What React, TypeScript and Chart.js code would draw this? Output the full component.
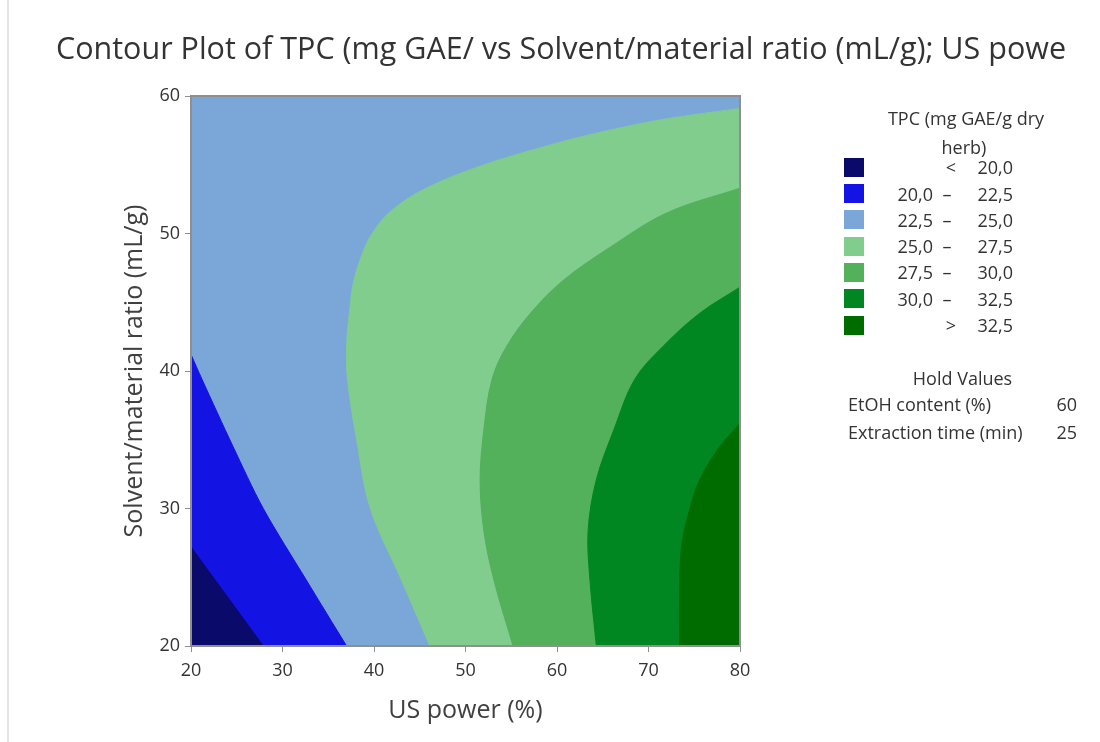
import React, { useEffect, useRef } from "react";
import { Chart, registerables } from "chart.js";

Chart.register(...registerables);

const FONT = "'Open Sans', 'Noto Sans', sans-serif";

// Axis ranges and ticks
const xRange = [20, 80];
const yRange = [20, 60];
const xTickStep = 10;
const yTickStep = 10;

// Contour boundaries: [US power %, solvent/material ratio]
const contour20_0 = [[20, 27.2], [27.9, 20]];
const contour22_5 = [[20, 41.2], [21.2, 39.4], [24.6, 34.5], [27.9, 30], [32.6, 24.8], [37, 20]];
const contour25_0 = [
  [46.1, 20], [43.0, 24.8], [39.6, 30], [38.1, 35], [37.1, 39.4], [37.0, 41.8], [37.3, 44.2],
  [37.8, 46.6], [39.0, 49.0], [39.8, 50.0], [41.6, 51.5], [45.4, 53.2], [51.6, 54.9],
  [58.5, 56.3], [64.3, 57.3], [71.6, 58.3], [80, 59.1],
];
const contour27_5 = [
  [55.2, 20], [53.1, 24.8], [52.0, 28.4], [51.6, 32.1], [52.0, 35.7], [52.9, 39.4],
  [54.5, 41.8], [57.1, 44.2], [60.7, 46.6], [65.8, 49.0], [72.0, 51.5], [80, 53.3],
];
const contour30_0 = [
  [64.3, 20], [63.6, 24.8], [63.4, 28.4], [64.3, 32.1], [66.2, 35.7], [68.5, 39.4],
  [71.6, 41.8], [75.6, 44.2], [80, 46.1],
];
const contour32_5 = [
  [73.4, 20], [73.4, 23.6], [73.6, 27.2], [74.4, 29.7], [75.6, 32.1], [77.8, 34.5], [80, 36.2],
];

// Legend
const legendLabels = [
  ["", "<", "20,0"],
  ["20,0", "–", "22,5"],
  ["22,5", "–", "25,0"],
  ["25,0", "–", "27,5"],
  ["27,5", "–", "30,0"],
  ["30,0", "–", "32,5"],
  ["", ">", "32,5"],
];
const levelColors = ["#0a0a6b", "#1313e3", "#7ba6d8", "#80cd8e", "#53b05b", "#008722", "#006c00"];
const holdNames = ["EtOH content (%)", "Extraction time (min)"];
const holdValues = ["60", "25"];

// Closed region from a contour: the contour is continued past the plot edge and
// closed through a corner that lies outside the plot (clipped away when drawn).
function region(curve: number[][], corner: { x: number; y: number }) {
  const pts = curve.map(([x, y]) => ({ x, y }));
  const a = pts[0], b = pts[1];
  const z = pts[pts.length - 1], w = pts[pts.length - 2];
  const startOut = { x: a.x + (a.x - b.x), y: a.y + (a.y - b.y) };
  const endOut = { x: z.x + (z.x - w.x), y: z.y + (z.y - w.y) };
  return [startOut, ...pts, endOut, corner];
}

export default function App() {
  const ref = useRef<HTMLCanvasElement>(null);

  useEffect(() => {
    if (!ref.current) return;
    const [x0, x1] = xRange;
    const [y0, y1] = yRange;
    const outLeft = { x: x0 - 10, y: y0 - 10 };
    const outRight = { x: x1 + 10, y: y0 - 10 };
    const regions = [
      { data: [{ x: x0, y: y0 }, { x: x0, y: y1 }, { x: x1, y: y1 }, { x: x1, y: y0 }], color: levelColors[2], t: 0 },
      { data: region(contour22_5, outLeft), color: levelColors[1], t: 0.3 },
      { data: region(contour20_0, outLeft), color: levelColors[0], t: 0 },
      { data: region(contour25_0, outRight), color: levelColors[3], t: 0.35 },
      { data: region(contour27_5, outRight), color: levelColors[4], t: 0.35 },
      { data: region(contour30_0, outRight), color: levelColors[5], t: 0.35 },
      { data: region(contour32_5, outRight), color: levelColors[6], t: 0.35 },
    ];
    const n = regions.length;

    const framePlugin = {
      id: "frame",
      afterDatasetsDraw(chart: any) {
        const { ctx, chartArea } = chart;
        ctx.save();
        ctx.strokeStyle = "#8f8f8f";
        ctx.lineWidth = 2;
        ctx.strokeRect(chartArea.left, chartArea.top, chartArea.right - chartArea.left, chartArea.bottom - chartArea.top);
        ctx.restore();
      },
    };

    const chart = new Chart(ref.current, {
      type: "line",
      data: {
        datasets: regions.map((r, i) => ({
          data: r.data,
          fill: "shape",
          backgroundColor: r.color,
          borderColor: r.color,
          borderWidth: 1,
          pointRadius: 0,
          tension: r.t,
          capBezierPoints: false,
          order: n - i,
        })) as any,
      },
      options: {
        responsive: false,
        animation: false,
        devicePixelRatio: 1,
        events: [],
        layout: { padding: { left: 22, top: 0, right: 0, bottom: 0 } },
        plugins: {
          legend: { display: false },
          tooltip: { enabled: false },
          title: {
            display: true,
            text: "Contour Plot of TPC (mg GAE/ vs Solvent/material ratio (mL/g); US powe",
            color: "#333",
            font: { family: FONT, size: 30.5, weight: "normal" },
            padding: { top: 32, bottom: 27.4 },
          },
        },
        scales: {
          x: {
            type: "linear",
            min: x0,
            max: x1,
            ticks: { stepSize: xTickStep, color: "#333", font: { family: FONT, size: 18 }, padding: 8.5 },
            grid: { drawOnChartArea: false, tickLength: 6, color: "#8f8f8f" },
            border: { display: false },
            title: {
              display: true,
              text: "US power (%)",
              color: "#404040",
              font: { family: FONT, size: 25 },
              padding: { top: 16, bottom: 16 },
            },
            afterFit(s: any) { s.height = 96; },
          },
          y: {
            type: "linear",
            min: y0,
            max: y1,
            ticks: { stepSize: yTickStep, color: "#333", font: { family: FONT, size: 18 }, padding: 5 },
            grid: { drawOnChartArea: false, tickLength: 6, color: "#8f8f8f" },
            border: { display: false },
            title: {
              display: true,
              text: "Solvent/material ratio (mL/g)",
              color: "#404040",
              font: { family: FONT, size: 25 },
              padding: { top: 98, bottom: 0 },
            },
            afterFit(s: any) { s.width = 169; },
          },
          spacer: {
            type: "linear",
            position: "right",
            display: true,
            grid: { display: false },
            ticks: { display: false },
            border: { display: false },
            afterFit(s: any) { s.width = 360; },
          },
        },
      } as any,
      plugins: [framePlugin],
    });
    return () => chart.destroy();
  }, []);

  const fs = 18;
  const txt: React.CSSProperties = {
    position: "absolute",
    fontFamily: FONT,
    fontSize: fs,
    lineHeight: `${fs}px`,
    color: "#333",
    whiteSpace: "nowrap",
  };
  const h = fs / 2;
  const rowCenter = (i: number) => 167.2 + i * 26.3;

  return (
    <div style={{ position: "fixed", left: 0, top: 0, width: 1100, height: 742, background: "#fff", overflow: "hidden" }}>
      <canvas ref={ref} width={1100} height={742} style={{ display: "block", position: "absolute", left: 0, top: 0 }} />
      <div style={{ position: "absolute", left: 7, top: 0, width: 2, height: 742, background: "#e4e4e4" }} />
      <div style={{ ...txt, left: 866, width: 200, textAlign: "center", top: 118 - h }}>TPC (mg GAE/g dry</div>
      <div style={{ ...txt, left: 864, width: 200, textAlign: "center", top: 146.5 - h }}>herb)</div>
      {legendLabels.map((l, i) => (
        <React.Fragment key={i}>
          <div style={{ position: "absolute", left: 844, top: rowCenter(i) - 9.5, width: 20, height: 19, background: levelColors[i] }} />
          {l[0] && <div style={{ ...txt, right: 1100 - 933, top: rowCenter(i) - h }}>{l[0]}</div>}
          <div style={{ ...txt, left: l[1] === "–" ? 937 : 941, width: 20, textAlign: "center", top: rowCenter(i) - h }}>{l[1]}</div>
          <div style={{ ...txt, right: 1100 - 1013, top: rowCenter(i) - h }}>{l[2]}</div>
        </React.Fragment>
      ))}
      <div style={{ ...txt, left: 862.5, width: 200, textAlign: "center", top: 378 - h }}>Hold Values</div>
      {holdNames.map((name, i) => (
        <React.Fragment key={name}>
          <div style={{ ...txt, left: 848, top: 404 + i * 27.5 - h }}>{name}</div>
          <div style={{ ...txt, right: 1100 - 1077, top: 404 + i * 27.5 - h }}>{holdValues[i]}</div>
        </React.Fragment>
      ))}
    </div>
  );
}
